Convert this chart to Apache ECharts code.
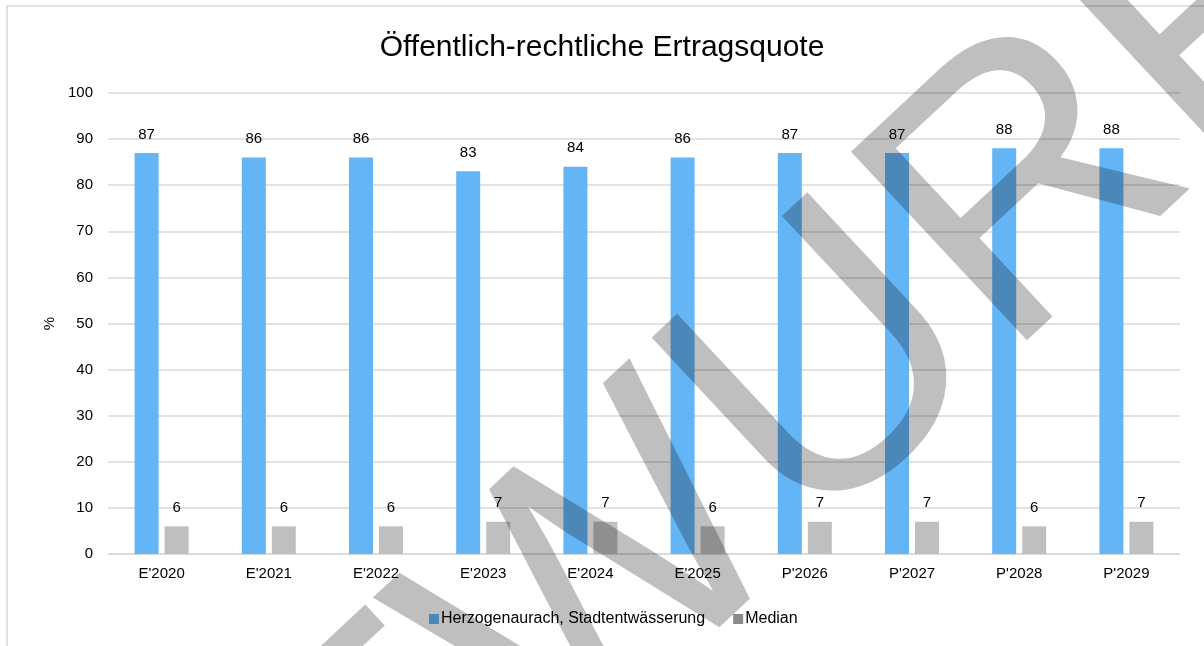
<!DOCTYPE html>
<html>
<head>
<meta charset="utf-8">
<script src="https://cdn.jsdelivr.net/npm/echarts@6/dist/echarts.min.js"></script>
<style>
html,body{margin:0;padding:0;background:#fff;}
#chart{width:1204px;height:646px;}
</style>
</head>
<body>
<div id="chart"></div>
<script>
const categories = ["E'2020","E'2021","E'2022","E'2023","E'2024","E'2025","P'2026","P'2027","P'2028","P'2029"];
const seriesNames = ["Herzogenaurach, Stadtentwässerung","Median"];
const herzogenaurach = [87,86,86,83,84,86,87,87,88,88];
const median = [6,6,6,7,7,6,7,7,6,7];
const titleText = "Öffentlich-rechtliche Ertragsquote";
const watermarkText = "ENTWURF";

const chart = echarts.init(document.getElementById('chart'), null, {renderer:'canvas'});
const font = "Liberation Sans, Arial, sans-serif";
const option = {
  animation:false,
  backgroundColor:'#fff',
  textStyle:{fontFamily:font},
  title:{text:titleText,left:'center',top:28,textStyle:{fontFamily:font,fontSize:30,fontWeight:'normal',color:'#000'}},
  grid:{left:108,right:24,top:93,bottom:92,containLabel:false},
  legend:{bottom:14,left:424,itemWidth:10,itemHeight:10,itemGap:28,icon:'rect',
    textStyle:{fontFamily:font,fontSize:16,color:'#000',padding:[0,0,0,-3]},
    data:[{name:seriesNames[0],itemStyle:{color:'#64B5F6'}},{name:seriesNames[1],itemStyle:{color:'#8A8A8A'}}]},
  xAxis:{type:'category',data:categories,
    axisLine:{lineStyle:{color:'#d9d9d9',width:1.5}},axisTick:{show:false},
    axisLabel:{fontFamily:font,fontSize:15,color:'#000',margin:12}},
  yAxis:{type:'value',min:0,max:100,interval:10,name:'%',nameLocation:'middle',nameGap:51,nameRotate:90,
    nameTextStyle:{fontFamily:font,fontSize:15,color:'#000'},
    axisLine:{show:false},axisTick:{show:false},
    axisLabel:{fontFamily:font,fontSize:15,color:'#000',margin:15},
    splitLine:{lineStyle:{color:'#d9d9d9',width:1.5}}},
  series:[
    {name:seriesNames[0],type:'bar',data:herzogenaurach,barWidth:24,barGap:'25%',
      itemStyle:{color:'#64B5F6'},
      label:{show:true,position:'top',distance:11,fontFamily:font,fontSize:15,color:'#000'}},
    {name:seriesNames[1],type:'bar',data:median,barWidth:24,barGap:'25%',
      itemStyle:{color:'#BFBFBF'},
      label:{show:true,position:'top',distance:11,fontFamily:font,fontSize:15,color:'#000'}}
  ],
  graphic:[
    {type:'rect',z:-1,silent:true,shape:{x:7,y:6,width:1250,height:700},style:{fill:null,stroke:'#d9d9d9',lineWidth:1.5}},
    {type:'text',z:100,silent:true,x:614,y:584,rotation:43*Math.PI/180,
      style:{text:watermarkText,fontFamily:font,fontSize:375,fill:'rgba(0,0,0,0.25)',align:'center',verticalAlign:'middle'}}
  ]
};
chart.setOption(option);
</script>
</body>
</html>
